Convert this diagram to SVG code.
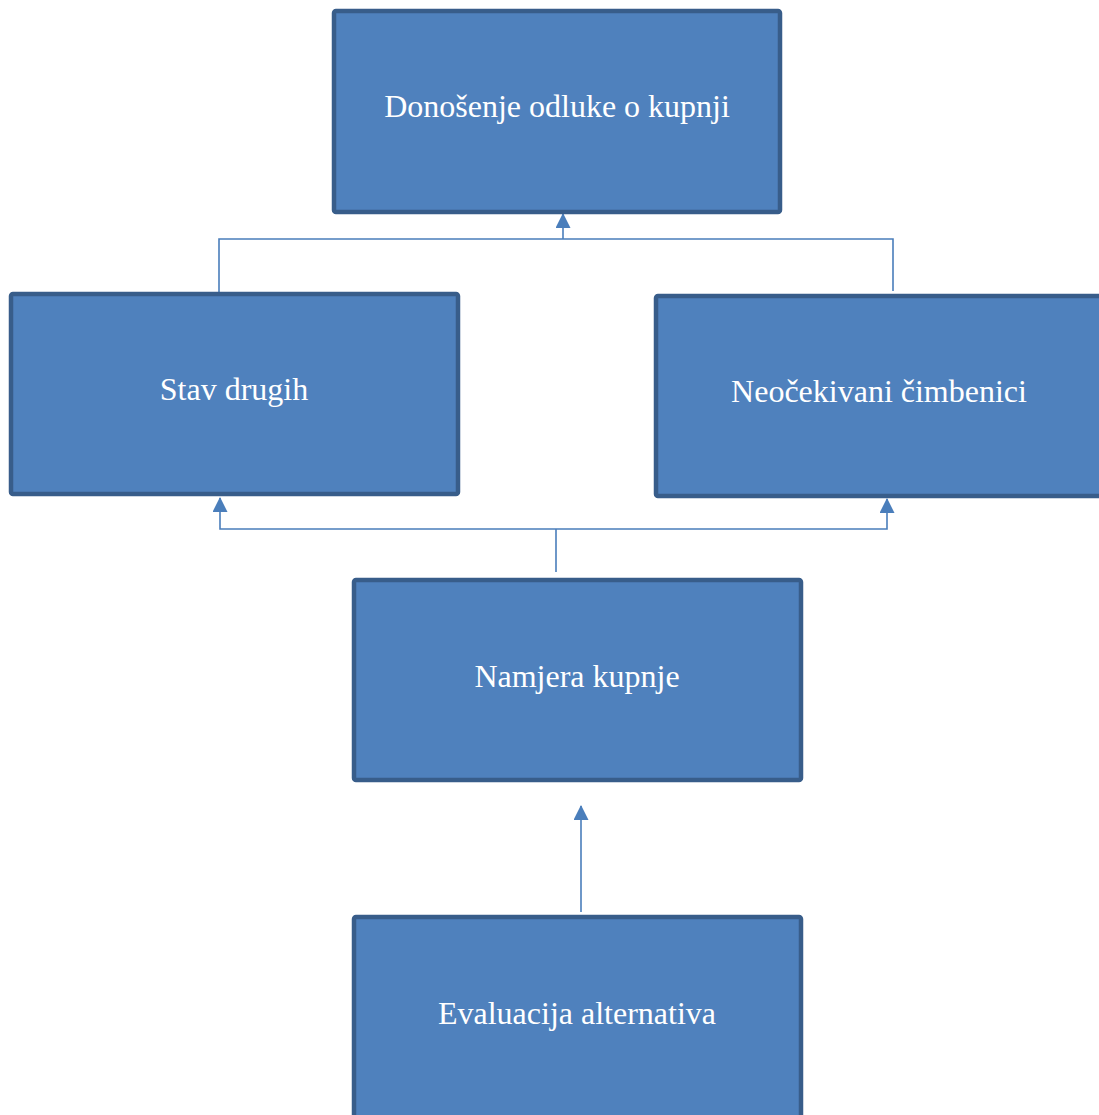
<svg xmlns="http://www.w3.org/2000/svg" width="1099" height="1115" viewBox="0 0 1099 1115">
<style>
.box{fill:#4f81bd;stroke:#385d8a;stroke-width:4.5}
.lbl{font-family:"Liberation Serif","Times New Roman",serif;font-size:32px;fill:#ffffff;text-anchor:middle}
.ln{fill:none;stroke:#4a7ebb;stroke-width:1.6}
</style>
<defs>
<marker id="ah" markerWidth="15" markerHeight="15" refX="14" refY="7.5" orient="auto" markerUnits="userSpaceOnUse" viewBox="0 0 15 15">
<path d="M0,0 L15,7.5 L0,15 Z" fill="#4a7ebb"/>
</marker>
</defs>
<g id="connectors">
<path class="ln" d="M219,292 V239 H893 V291"/>
<path class="ln" d="M563,239 V214" marker-end="url(#ah)"/>
<path class="ln" d="M556,572 V529"/>
<path class="ln" d="M556,529 H220 V498" marker-end="url(#ah)"/>
<path class="ln" d="M556,529 H887 V499" marker-end="url(#ah)"/>
<path class="ln" d="M581,912 V806" marker-end="url(#ah)"/>
</g>
<g id="n1"><rect class="box" x="334" y="11" width="446" height="201" rx="2"/><text class="lbl" x="557" y="117">Donošenje odluke o kupnji</text></g>
<g id="n2"><rect class="box" x="11" y="294" width="447" height="200" rx="2"/><text class="lbl" x="234" y="400">Stav drugih</text></g>
<g id="n3"><rect class="box" x="656" y="296" width="447" height="200" rx="2"/><text class="lbl" x="879" y="402">Neočekivani čimbenici</text></g>
<g id="n4"><rect class="box" x="354" y="580" width="447" height="200" rx="2"/><text class="lbl" x="577" y="687">Namjera kupnje</text></g>
<g id="n5"><rect class="box" x="354" y="917" width="447" height="210" rx="2"/><text class="lbl" x="577" y="1024">Evaluacija alternativa</text></g>
</svg>
